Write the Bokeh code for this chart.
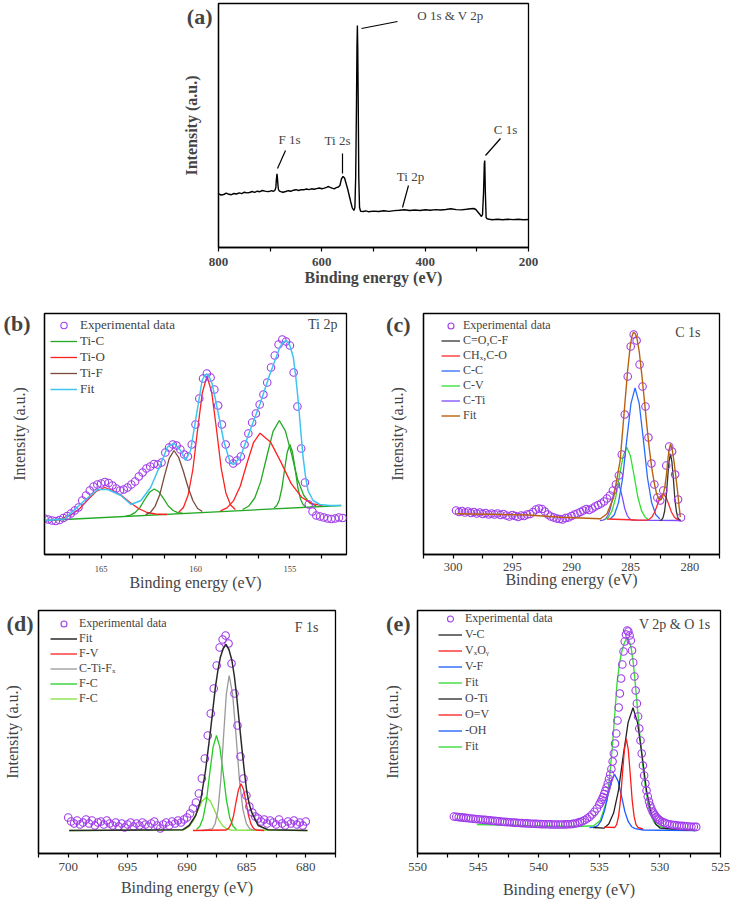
from bokeh.plotting import figure
from bokeh.models import Range1d, FixedTicker, Label, Legend, LegendItem
from bokeh.layouts import column, row
from bokeh.embed import file_html
from bokeh.resources import INLINE

# ======================= DATA =======================
# ---- (a) survey spectrum ----
A_BE = [800, 795, 790, 785, 780, 775, 770, 765, 760, 755, 750, 745, 740, 735, 730, 725, 720, 715, 710, 705, 700,
        697, 694, 691, 689, 688, 686.8, 686, 685, 684, 682, 679,
        675, 670, 665, 660, 655, 650, 645, 640, 635, 630, 625, 620, 615, 610, 605, 600, 595,
        590, 587, 584, 580, 576, 572, 568, 565, 562, 559, 556, 553, 550, 547, 544, 541, 538, 536, 534.5, 533, 532,
        531.2, 530.5, 529.5, 528.5, 527, 525, 520, 515,
        510, 500, 490, 480, 470, 460, 450, 440, 430, 420, 410, 400, 390, 380, 370, 360, 350, 340, 330, 320,
        312, 306, 302, 298, 294, 291, 289, 287, 285.5, 284.7, 283.5, 282, 280, 276,
        270, 260, 250, 240, 230, 220, 210, 200]
A_INT = [53.7, 52.5, 53.0, 54.3, 53.2, 52.8, 54.0, 53.5, 54.6, 53.9, 55.3, 54.6, 55.0, 56.0, 55.2, 56.3, 55.8, 57.0, 56.4, 55.9, 56.3,
         56.8, 56.2, 57.0, 60, 68, 73.7, 70, 63, 58, 56.3, 55.8,
         55.3, 56.0, 56.8, 56.2, 57.3, 57.8, 57.0, 57.9, 57.7, 58.5, 57.9, 58.7, 58.2, 58.9, 59.5, 58.8, 59.4,
         60.3, 61, 60.2, 59.3, 58.7, 59.8, 60.5, 62, 68.7, 71, 69.5, 64, 58.5, 52, 45.5, 39.5, 37, 40, 70, 140, 200,
         222, 200, 140, 70, 40, 36.3, 36.0, 36.6,
         35.8, 36.4, 36.0, 36.7, 36.1, 36.9, 37.3, 37.8, 37.0, 37.5, 37.0, 37.7, 37.3, 37.9, 37.5, 38.0, 38.7, 37.9, 37.6, 38.2,
         38.7, 39.0, 38.0, 35.5, 33.0, 31.0, 33, 55, 84, 87, 55, 30, 28.7, 28.2,
         27.8, 28.3, 27.7, 28.2, 27.9, 28.3, 27.8, 28.0]
A_TICKS = [800, 600, 400, 200]
A_MINOR = [700, 500, 300]
A_PEAK_NAMES = ["O 1s & V 2p", "F 1s", "Ti 2s", "Ti 2p", "C 1s"]

# ---- (b) Ti 2p ----
B_EXP_X = [168.0, 167.8, 167.6, 167.4, 167.2, 167.0, 166.8, 166.6, 166.4, 166.2, 166.0, 165.8, 165.6, 165.4, 165.2,
           165.0, 164.8, 164.6, 164.4, 164.2, 164.0, 163.8, 163.6, 163.4, 163.2, 163.0, 162.8, 162.6, 162.4, 162.2,
           162.0, 161.8, 161.6, 161.4, 161.2, 161.0, 160.8, 160.6, 160.4, 160.2, 160.0, 159.8, 159.6, 159.4, 159.2,
           159.0, 158.8, 158.6, 158.4, 158.2, 158.0, 157.8, 157.6, 157.4, 157.2, 157.0, 156.8, 156.6, 156.4, 156.2,
           156.0, 155.8, 155.6, 155.4, 155.2, 155.0, 154.8, 154.6, 154.4, 154.2, 154.0, 153.8, 153.6, 153.4, 153.2,
           153.0, 152.8, 152.6, 152.4, 152.2]
B_EXP_Y = [36, 35, 34, 33.5, 34.5, 36.5, 38.5, 41, 44, 47,
           54, 59, 64, 68, 70, 71, 72.5, 71.5, 69, 66,
           64, 65, 67, 70, 73, 78, 82, 86, 88, 90.5,
           90, 92, 102, 107, 110, 109, 105, 100, 98, 110,
           130, 156, 176, 181, 177, 165, 149, 130, 110, 95,
           91, 94, 98, 110, 121, 132, 141, 150, 160, 172,
           187, 199, 210, 215, 213, 209, 182, 148, 106, 72,
           50, 43, 39, 38, 37, 36, 35.5, 36, 37, 36.5]
B_FIT_X = [167.98, 166.93, 165.88, 165.18, 164.65, 163.95, 163.42, 162.89, 162.37, 161.84, 161.49, 161.14, 160.79,
           160.53, 160.26, 159.91, 159.65, 159.52, 159.39, 159.26, 159.12, 158.86, 158.51, 158.16, 157.98, 157.63,
           157.11, 156.58, 156.05, 155.53, 155.35, 155.18, 155.00, 154.82, 154.69, 154.56, 154.43, 154.30, 154.17,
           154.04, 153.77, 153.42, 152.89, 152.28]
B_FIT_Y = [34, 35.7, 54, 65, 65, 59, 50, 54, 67.3, 90.7, 107.3, 111.3, 104, 94, 104, 144, 174, 179, 180.5, 177,
           170.7, 147.3, 114, 91.7, 90, 97.3, 124, 150.7, 180.7, 207.3, 212.5, 214, 209, 197.3, 178, 154, 125, 97.3,
           78, 64, 54, 50, 49, 49]
B_BG_X = [167.98, 152.28]
B_BG_Y = [34, 49]
B_TIC1_X = [163.69, 163.44, 163.19, 162.94, 162.69, 162.44, 162.19, 161.94, 161.69, 161.44, 161.19, 160.94, 160.69]
B_TIC1_Y = [38.4, 39.4, 42.1, 47.1, 55.0, 62.2, 65.5, 62.7, 55.9, 48.5, 44.0, 41.8, 41.3]
B_TIC2_X = [157.51, 157.19, 156.86, 156.54, 156.21, 155.89, 155.56, 155.24, 154.91, 154.59, 154.26, 153.94, 153.61]
B_TIC2_Y = [45.0, 48.2, 56.5, 73.1, 99.0, 123.1, 134.0, 123.7, 100.3, 75.0, 59.0, 51.3, 48.7]
B_TIC3_X = [155.84, 155.70, 155.56, 155.42, 155.28, 155.14, 155.00, 154.86, 154.72, 154.58, 154.44, 154.30, 154.16]
B_TIC3_Y = [46.5, 48.7, 54.6, 66.5, 85.0, 102.3, 110.0, 102.5, 85.4, 67.2, 55.5, 49.8, 47.9]
B_TIO1_X = [167.52, 167.07, 166.62, 166.17, 165.72, 165.27, 164.82, 164.37, 163.92, 163.47, 163.02, 162.57, 162.12, 161.5]
B_TIO1_Y = [34.7, 36.2, 39.4, 45.3, 54.4, 63.0, 67.0, 64.0, 59.0, 52.0, 46.0, 42.0, 40.5, 40.0]
B_TIO2_X = [160.89, 160.64, 160.39, 160.14, 159.89, 159.64, 159.39, 159.14, 158.89, 158.64, 158.39, 158.14, 157.89]
B_TIO2_Y = [42.3, 47.0, 59.6, 85.0, 124.7, 161.7, 178.2, 162.1, 125.7, 86.4, 61.6, 49.4, 45.1]
B_TIO3_X = [158.68, 158.33, 157.98, 157.63, 157.28, 156.93, 156.58, 156.03, 155.48, 154.93, 154.38, 153.83, 153.28]
B_TIO3_Y = [43.7, 46.6, 53.9, 68.3, 90.8, 111.8, 121.3, 112.6, 92.6, 70.9, 57.3, 50.9, 48.8]
B_TIF_X = [162.64, 162.39, 162.14, 161.89, 161.64, 161.39, 161.14, 160.89, 160.64, 160.39, 160.14, 159.89, 159.64]
B_TIF_Y = [39.8, 42.2, 48.2, 60.1, 78.8, 96.2, 104.0, 97.0, 83.0, 67.0, 54.0, 46.0, 43.0]
B_TICKS = [165, 160, 155]
B_MINOR = [166.667, 163.333, 161.667, 158.333, 156.667, 153.333]

# ---- (c) C 1s ----
C_EXP_X = [299.75, 299.5, 299.25, 299.0, 298.75, 298.5, 298.25, 298.0, 297.75, 297.5, 297.25, 297.0, 296.75, 296.5,
           296.25, 296.0, 295.75, 295.5, 295.25, 295.0, 294.75, 294.5, 294.25, 294.0, 293.75, 293.5, 293.25, 293.0,
           292.75, 292.5, 292.25, 292.0, 291.75, 291.5, 291.25, 291.0, 290.75, 290.5, 290.25, 290.0, 289.75, 289.5,
           289.25, 289.0, 288.75, 288.5, 288.25, 288.0, 287.75, 287.5, 287.25, 287.0, 286.75, 286.5, 286.25, 286.0,
           285.75, 285.5, 285.25, 285.0, 284.75, 284.5, 284.25, 284.0, 283.75, 283.5, 283.25, 283.0, 282.75, 282.5,
           282.25, 282.0, 281.75, 281.5, 281.25, 281.0, 280.75]
C_EXP_Y = [44, 42.5, 43.5, 42, 43, 41.5, 42.5, 41, 42, 40.5,
           41.5, 40, 41, 40, 41, 39.5, 40.5, 39, 38, 39.5,
           38.5, 37.5, 39, 38.5, 40, 40.5, 42.5, 45, 46, 45.5,
           43, 40, 38, 37, 36, 35.5, 35, 36.5, 37, 38.5,
           40, 41, 42.5, 44, 45.5, 44.5, 46, 48, 49.5, 51,
           53, 56, 59, 64, 70, 79, 100, 140, 178, 208,
           220, 214, 190, 168, 148, 117, 91, 70, 57, 54,
           64, 89, 108, 103, 80, 55, 37]
C_FIT_X = [299.71, 296.0, 293.7, 290.91, 287.56, 287.0, 286.44, 285.89, 285.47, 285.25, 285.05, 284.90, 284.77,
           284.63, 284.49, 284.28, 284.07, 283.86, 283.65, 283.44, 283.23, 283.02, 282.81, 282.63, 282.45, 282.28,
           282.12, 281.98, 281.84, 281.73, 281.62, 281.48, 281.33, 281.19, 281.05, 280.93, 280.81]
C_FIT_Y = [40.7, 40, 39.5, 37.3, 35.7, 40.7, 57.3, 94, 154, 185, 207.3, 218, 222.3, 221, 217.3, 203, 180.7, 156,
           130.7, 107, 87.3, 72, 60.7, 55.5, 54.7, 58.5, 67.3, 80, 97.3, 106, 110.7, 104, 92, 78, 64, 50, 37.3]
C_CTI_X = [287.6, 287.34, 287.13, 286.93, 286.72, 286.52, 286.31, 286.11, 285.91, 285.70, 285.50, 285.29, 285.09, 284.88, 280.77]
C_CTI_Y = [34.0, 34.4, 35.6, 39.0, 45.9, 56.8, 66.8, 71.3, 66.8, 56.8, 45.9, 39.0, 35.6, 34.4, 34.0]
C_CV_X = [287.19, 286.88, 286.57, 286.26, 285.95, 285.64, 285.33, 285.02, 284.71, 284.40, 284.09, 283.78, 283.47]
C_CV_Y = [34.8, 37.2, 43.9, 57.5, 78.7, 98.5, 107.3, 98.5, 78.7, 57.5, 43.9, 37.2, 34.8]
C_CC_X = [286.73, 286.38, 286.03, 285.68, 285.33, 284.98, 284.63, 284.28, 283.93, 283.58, 283.23, 282.88, 282.53]
C_CC_Y = [35.5, 39.8, 51.9, 76.5, 114.9, 150.8, 166.7, 150.8, 114.9, 76.5, 51.9, 39.8, 35.5]
C_CH_X = [287.0, 284.5, 283.67, 283.44, 283.20, 282.97, 282.73, 282.50, 282.26, 282.03, 281.79, 281.56, 281.32, 281.09, 280.85]
C_CH_Y = [35.5, 34.5, 34.3, 35.2, 37.6, 42.5, 50.3, 57.5, 60.7, 57.5, 50.3, 42.5, 37.6, 35.2, 34.3]
C_CO_X = [282.53, 282.39, 282.27, 282.14, 282.02, 281.89, 281.77, 281.64, 281.52, 281.39, 281.27, 281.14, 281.02, 280.89, 280.77]
C_CO_Y = [34.0, 34.7, 36.9, 43.0, 55.3, 74.7, 92.7, 100.7, 92.7, 74.7, 55.3, 43.0, 36.9, 34.7, 34.0]
C_TICKS = [300, 295, 290, 285, 280]
C_MINOR = [302.5, 297.5, 292.5, 287.5, 282.5, 277.5]

# ---- (d) F 1s ----
D_EXP_X = [700.0, 699.75, 699.5, 699.25, 699.0, 698.75, 698.5, 698.25, 698.0, 697.75, 697.5, 697.25, 697.0, 696.75,
           696.5, 696.25, 696.0, 695.75, 695.5, 695.25, 695.0, 694.75, 694.5, 694.25, 694.0, 693.75, 693.5, 693.25,
           693.0, 692.75, 692.5, 692.25, 692.0, 691.75, 691.5, 691.25, 691.0, 690.75, 690.5, 690.25, 690.0, 689.75,
           689.5, 689.25, 689.0, 688.75, 688.5, 688.25, 688.0, 687.75, 687.5, 687.25, 687.0, 686.75, 686.5, 686.25,
           686.0, 685.75, 685.5, 685.25, 685.0, 684.75, 684.5, 684.25, 684.0, 683.75, 683.5, 683.25, 683.0, 682.75,
           682.5, 682.25, 682.0, 681.75, 681.5, 681.25, 681.0, 680.75, 680.5, 680.25, 680.0]
D_EXP_Y = [36, 32, 30, 33, 29, 31, 34, 30, 33, 28,
           31, 32, 29, 33, 30, 28, 31, 27, 30, 26,
           29, 31, 27, 30, 28, 31, 29, 27, 30, 32,
           28, 25, 29, 31, 28, 32, 30, 33, 31, 34,
           36, 40, 45, 51, 60, 75, 95, 118, 140, 165,
           188, 206, 214, 218, 210, 190, 160, 128, 97, 75,
           58, 47, 41, 37, 35, 32, 34, 30, 33, 31,
           29, 34, 30, 28, 32, 30, 33, 29, 31, 28, 32]
D_FIT_X = [699.92, 690.37, 689.82, 689.27, 688.85, 688.44, 688.02, 687.61, 687.40, 687.19, 686.95, 686.72, 686.47,
           686.22, 686.01, 685.81, 685.60, 685.39, 685.18, 684.98, 684.77, 684.56, 684.01, 683.18, 679.86]
D_FIT_Y = [23, 23.7, 28, 38, 53, 83, 123, 166.3, 183, 196.3, 205, 209, 204, 193, 177, 156.3, 131, 106.3, 83, 63,
           50, 41.3, 28, 23.7, 23]
D_FV_X = [689.5, 686.71, 686.50, 686.29, 686.08, 685.87, 685.66, 685.45, 685.24, 685.03, 684.82, 684.61, 684.40, 684.19, 683.5]
D_FV_Y = [23.0, 23.5, 25.1, 29.3, 37.9, 51.5, 64.1, 69.7, 64.1, 51.5, 37.9, 29.3, 25.1, 23.5, 23.0]
D_CTIF_X = [688.71, 687.86, 687.63, 687.39, 687.16, 686.92, 686.69, 686.45, 686.16, 685.87, 685.58, 685.29, 685.00, 684.71, 684.29]
D_CTIF_Y = [23.0, 24.7, 29.8, 43.9, 72.6, 117.6, 159.4, 178.0, 159.4, 117.6, 72.6, 43.9, 29.8, 24.7, 23.0]
D_FC1_X = [689.20, 688.92, 688.64, 688.36, 688.08, 687.80, 687.52, 687.24, 686.96, 686.68, 686.40, 686.12, 685.84]
D_FC1_Y = [24.0, 27.2, 35.8, 53.4, 81.0, 106.6, 118.0, 106.6, 81.0, 53.4, 35.8, 27.2, 24.0]
D_FC2_X = [699.92, 690.48, 690.13, 689.78, 689.43, 689.08, 688.73, 688.38, 688.03, 687.68, 687.33, 686.98, 686.63, 686.28, 679.86]
D_FC2_Y = [23.0, 23.4, 24.5, 27.5, 33.7, 43.3, 52.3, 56.3, 52.3, 43.3, 33.7, 27.5, 24.5, 23.4, 23.0]
D_TICKS = [700, 695, 690, 685, 680]
D_MINOR = [702.5, 697.5, 692.5, 687.5, 682.5, 677.5]

# ---- (e) V 2p & O 1s ----
E_EXP_X = [547.0, 546.8, 546.6, 546.4, 546.2, 546.0, 545.8, 545.6, 545.4, 545.2, 545.0, 544.8, 544.6, 544.4, 544.2,
           544.0, 543.8, 543.6, 543.4, 543.2, 543.0, 542.8, 542.6, 542.4, 542.2, 542.0, 541.8, 541.6, 541.4, 541.2,
           541.0, 540.8, 540.6, 540.4, 540.2, 540.0, 539.8, 539.6, 539.4, 539.2, 539.0, 538.8, 538.6, 538.4, 538.2,
           538.0, 537.8, 537.6, 537.4, 537.2, 537.0, 536.8, 536.6, 536.4, 536.2, 536.0, 535.8, 535.6, 535.4, 535.2,
           535.0, 534.9, 534.8, 534.7, 534.6, 534.5, 534.4, 534.3, 534.2, 534.1, 534.0, 533.9, 533.8, 533.7, 533.6,
           533.5, 533.4, 533.3, 533.2, 533.1, 533.0, 532.9, 532.8, 532.7, 532.6, 532.5, 532.4, 532.3, 532.2, 532.1,
           532.0, 531.9, 531.8, 531.7, 531.6, 531.5, 531.4, 531.3, 531.2, 531.1, 531.0, 530.9, 530.8, 530.7, 530.6,
           530.5, 530.4, 530.3, 530.2, 530.1,
           530.0, 529.8, 529.6, 529.4, 529.2, 529.0, 528.8, 528.6, 528.4, 528.2, 528.0, 527.8, 527.6, 527.4, 527.2, 527.0]
E_EXP_Y = [37.0, 36.7, 36.4, 36.1, 35.9, 35.6, 35.3, 35.0, 34.8, 34.5, 34.3, 34.0, 33.8, 33.6, 33.3,
           33.1, 32.8, 32.6, 32.3, 32.1, 31.8, 31.6, 31.4, 31.2, 31.0, 30.9, 30.7, 30.5, 30.4, 30.2,
           30.1, 30.0, 29.8, 29.7, 29.6, 29.5, 29.4, 29.3, 29.2, 29.2, 29.1, 29.0, 29.0, 29.0, 29.0,
           29.0, 29.1, 29.2, 29.3, 29.6, 30.0, 30.6, 31.4, 32.3, 33.5, 35.0, 36.8, 39.0, 41.8, 45.0,
           49, 51.3, 53.8, 56.5, 59.5, 62.6, 66, 70, 74.5, 79, 84.5, 92, 100, 110, 120,
           133, 146, 160, 175, 189, 202, 212, 219, 223, 222, 218, 213, 203, 191, 177,
           163, 150, 137, 125, 113, 100, 88, 78, 70, 63, 57, 52, 48, 45, 42,
           40, 38, 36.5, 35, 34,
           33, 31.6, 30.6, 29.8, 29.2, 28.8, 28.4, 28.1, 27.8, 27.6, 27.4, 27.2, 27.0, 26.8, 26.7, 26.6]
E_FIT_X = [545.1, 540.97, 536.84, 535.47, 534.92, 534.37, 534.16, 533.95, 533.75, 533.54, 533.34, 533.13, 532.92,
           532.71, 532.55, 532.38, 532.20, 532.03, 531.82, 531.61, 531.41, 531.20, 531.00, 530.79, 530.52, 530.24,
           529.5, 527.07]
E_FIT_Y = [29, 27.7, 27, 27.7, 33, 53, 75, 103, 135, 169.7, 190, 203, 211, 216.3, 213, 206.3, 191, 169.7, 141, 113,
           88, 66.3, 51, 39.7, 32, 28, 25, 23]
E_OTI_X = [535.5, 534.62, 534.22, 533.82, 533.42, 533.02, 532.62, 532.22, 531.85, 531.47, 531.10, 530.72, 530.35, 529.97, 527.07]
E_OTI_Y = [26.0, 25.3, 29.4, 40.4, 62.9, 98.2, 131.1, 145.7, 131.1, 98.2, 62.9, 40.4, 29.4, 25.3, 23.0]
E_OV_X = [534.6, 533.73, 533.57, 533.41, 533.25, 533.09, 532.93, 532.77, 532.61, 532.45, 532.29, 532.13, 531.97, 531.81, 531.4]
E_OV_Y = [26.3, 26.0, 28.9, 37.1, 53.7, 79.7, 103.9, 114.7, 103.9, 79.7, 53.7, 37.1, 28.9, 26.0, 24.7]
E_OH_X = [535.8, 535.41, 535.13, 534.85, 534.57, 534.29, 534.01, 533.73, 533.45, 533.17, 532.89, 532.61, 532.33, 532.05, 531.34, 527.07]
E_OH_Y = [26.0, 26.3, 27.9, 32.7, 42.6, 58.1, 72.6, 79.0, 72.4, 57.7, 41.9, 31.8, 26.8, 24.9, 23.5, 23.0]
E_TICKS = [550, 545, 540, 535, 530, 525]
E_MINOR = [547.5, 542.5, 537.5, 532.5, 527.5]

for _nm in list(globals()):
    if _nm.endswith("_X") and _nm[:-2] + "_Y" in globals():
        assert len(globals()[_nm]) == len(globals()[_nm[:-2] + "_Y"]), _nm
assert len(A_BE) == len(A_INT)

# ======================= STYLE / LAYOUT =======================
SERIF = "Liberation Serif"
PURPLE = "#a03cea"

# annotation placement for (a): text x, text y, leader x0, y0, x1, y1 (data units)
A_ANNOT_POS = [(351, 232, 523.2, 219, 453.5, 226),
               (662.6, 108, 670.3, 97, 685.8, 79),
               (569.7, 107, 560, 94, 560, 74),
               (428.4, 71, 432.3, 62, 443.9, 40),
               (244.5, 118, 254.2, 109, 283.2, 92)]


def make_fig(width, height, xr, yr, bl, br, bt, bb, ticks, minor, tick_font, tick_standoff, title_standoff,
             letter, letter_y, letter_standoff, ylab_standoff, bold=False):
    p = figure(width=width, height=height, x_range=Range1d(xr[0], xr[1]), y_range=Range1d(yr[0], yr[1]),
               output_backend="svg", toolbar_location=None,
               min_border_left=bl, min_border_right=br, min_border_top=bt, min_border_bottom=bb)
    p.xgrid.visible = False
    p.ygrid.visible = False
    p.outline_line_color = "black"
    p.outline_line_width = 1.3
    p.outline_line_alpha = 1.0
    xa = p.xaxis[0]
    xa.ticker = FixedTicker(ticks=ticks, minor_ticks=minor)
    xa.major_tick_in = 0
    xa.major_tick_out = 4
    xa.minor_tick_in = 0
    xa.minor_tick_out = 4
    xa.axis_line_width = 1.3
    xa.major_tick_line_width = 1.2
    xa.minor_tick_line_width = 1.2
    xa.major_label_text_font = SERIF
    xa.major_label_text_font_size = tick_font
    xa.major_label_text_font_style = "bold" if bold else "normal"
    xa.major_label_standoff = tick_standoff
    xa.axis_label = "Binding energy (eV)"
    xa.axis_label_text_font = SERIF
    xa.axis_label_text_font_size = "16px"
    xa.axis_label_text_font_style = "bold" if bold else "normal"
    xa.axis_label_standoff = title_standoff
    # the y axis carries no scale; its single tick label is the panel letter
    ya = p.yaxis[0]
    ya.ticker = FixedTicker(ticks=[letter_y])
    ya.major_label_overrides = {letter_y: letter}
    ya.major_label_text_font = SERIF
    ya.major_label_text_font_size = "22px"
    ya.major_label_text_font_style = "bold"
    ya.major_label_standoff = letter_standoff
    ya.major_tick_out = 0
    ya.major_tick_in = 0
    ya.minor_tick_out = 0
    ya.minor_tick_in = 0
    ya.axis_line_width = 1.3
    ya.axis_label = "Intensity (a.u.)"
    ya.axis_label_text_font = SERIF
    ya.axis_label_text_font_size = "16px"
    ya.axis_label_text_font_style = "bold" if bold else "normal"
    ya.axis_label_standoff = ylab_standoff
    return p


def add_title(p, text, x, y):
    p.add_layout(Label(x=x, y=y, x_units="screen", y_units="screen", text=text, text_font=SERIF,
                       text_font_size="14px", text_baseline="middle", text_align="right"))


def add_legend(p, items, left, top, frame_h, gh, sp, font_size, glyph_w, standoff):
    n = len(items)
    lh = n * gh + (n - 1) * sp
    leg = Legend(items=[LegendItem(label=t, renderers=[r]) for t, r in items],
                 location=(left, frame_h - top - lh), orientation="vertical",
                 padding=0, margin=0, spacing=sp, glyph_height=gh, glyph_width=glyph_w,
                 label_height=gh, label_standoff=standoff, label_text_font=SERIF,
                 label_text_font_size=font_size, border_line_alpha=0, background_fill_alpha=0)
    p.add_layout(leg)


def exp_points(p, x, y):
    return p.scatter(x, y, marker="circle", size=7.5, fill_color=None, line_color=PURPLE, line_width=1.1)


# ---------------- (a) ----------------
pa = make_fig(730, 300, (800, 200), (0, 244), 218, 202, 3, 53, A_TICKS, A_MINOR, "13px", 6, 0,
              "(a)", 231, 6, -16, bold=True)
pa.line(A_BE, A_INT, line_color="black", line_width=1.4)
for name, (tx, ty, x0, y0, x1, y1) in zip(A_PEAK_NAMES, A_ANNOT_POS):
    pa.add_layout(Label(x=tx, y=ty, text=name, text_font=SERIF, text_font_size="13px",
                        text_align="center", text_baseline="middle"))
    pa.segment(x0=[x0], y0=[y0], x1=[x1], y1=[y1], line_color="black", line_width=1.2)

# ---------------- (b) ----------------
pb = make_fig(368, 300, (168, 152), (0, 241), 44, 22, 13, 46, B_TICKS, B_MINOR, "8.5px", 7, -1,
              "(b)", 231, 14, -27)
GREEN_B, RED_B, BROWN_B, CYAN_B = "#22a822", "#ff2020", "#7a4a3a", "#3ec4f0"
r_btic = pb.multi_line([B_BG_X, B_TIC1_X, B_TIC2_X, B_TIC3_X], [B_BG_Y, B_TIC1_Y, B_TIC2_Y, B_TIC3_Y],
                       line_color=GREEN_B, line_width=1.3)
r_btio = pb.multi_line([B_TIO1_X, B_TIO2_X, B_TIO3_X], [B_TIO1_Y, B_TIO2_Y, B_TIO3_Y], line_color=RED_B, line_width=1.3)
r_btif = pb.line(B_TIF_X, B_TIF_Y, line_color=BROWN_B, line_width=1.3)
r_bexp = exp_points(pb, B_EXP_X, B_EXP_Y)
r_bfit = pb.line(B_FIT_X, B_FIT_Y, line_color=CYAN_B, line_width=1.5)
add_legend(pb, [("Experimental data", r_bexp), ("Ti-C", r_btic), ("Ti-O", r_btio), ("Ti-F", r_btif), ("Fit", r_bfit)],
           6, 4, 241, 16, 0, "13px", 27, 3)
add_title(pb, "Ti 2p", 293, 230)

# ---------------- (c) ----------------
pc = make_fig(362, 300, (302.5, 277.5), (0, 241), 55, 11, 13, 46, C_TICKS, C_MINOR, "12.5px", 4, -3,
              "(c)", 230, 13, -23)
r_ccti = pc.line(C_CTI_X, C_CTI_Y, line_color="#7a4dff", line_width=1.3)
r_ccv = pc.line(C_CV_X, C_CV_Y, line_color="#2ee02e", line_width=1.3)
r_ccc = pc.line(C_CC_X, C_CC_Y, line_color="#2a6bff", line_width=1.3)
r_cch = pc.line(C_CH_X, C_CH_Y, line_color="#ff2a2a", line_width=1.3)
r_cco = pc.line(C_CO_X, C_CO_Y, line_color="#333333", line_width=1.3)
r_cexp = exp_points(pc, C_EXP_X, C_EXP_Y)
r_cfit = pc.line(C_FIT_X, C_FIT_Y, line_color="#b8610f", line_width=1.4)
add_legend(pc, [("Experimental data", r_cexp), ("C=O,C-F", r_cco), ("CHₓ,C-O", r_cch), ("C-C", r_ccc),
                ("C-V", r_ccv), ("C-Ti", r_ccti), ("Fit", r_cfit)],
           18, 5, 241, 15, 0, "12px", 19, 3)
add_title(pc, "C 1s", 277, 222)

# ---------------- (d) ----------------
pd_ = make_fig(368, 302, (702.5, 677.5), (0, 243), 33, 33, 10, 49, D_TICKS, D_MINOR, "13px", 5, 5,
               "(d)", 230, 5, -17)
r_dfc2 = pd_.line(D_FC2_X, D_FC2_Y, line_color="#7fe03a", line_width=1.3)
r_dfc1 = pd_.line(D_FC1_X, D_FC1_Y, line_color="#22cc22", line_width=1.3)
r_dctif = pd_.line(D_CTIF_X, D_CTIF_Y, line_color="#9a9a9a", line_width=1.3)
r_dfv = pd_.line(D_FV_X, D_FV_Y, line_color="#ff2020", line_width=1.3)
r_dexp = exp_points(pd_, D_EXP_X, D_EXP_Y)
r_dfit = pd_.line(D_FIT_X, D_FIT_Y, line_color="#2a2a2a", line_width=1.5)
add_legend(pd_, [("Experimental data", r_dexp), ("Fit", r_dfit), ("F-V", r_dfv), ("C-Ti-Fₓ", r_dctif),
                 ("F-C", r_dfc1), ("F-C", r_dfc2)],
           12, 6, 243, 15, 0, "12px", 27, 2)
add_title(pd_, "F 1s", 280, 226)

# ---------------- (e) ----------------
pe = make_fig(362, 302, (550, 525), (0, 243), 49, 10, 10, 49, E_TICKS, E_MINOR, "12.5px", 5, 7,
              "(e)", 230, 7, -18)
r_efit = pe.line(E_FIT_X, E_FIT_Y, line_color="#3ddc3d", line_width=1.4)
r_eoh = pe.line(E_OH_X, E_OH_Y, line_color="#1a5cff", line_width=1.3)
r_eoti = pe.line(E_OTI_X, E_OTI_Y, line_color="#222222", line_width=1.3)
r_eov = pe.line(E_OV_X, E_OV_Y, line_color="#ff1a1a", line_width=1.3)
r_eexp = exp_points(pe, E_EXP_X, E_EXP_Y)
add_legend(pe, [("Experimental data", r_eexp), ("V-C", r_eoti), ("VₓOᵧ", r_eov), ("V-F", r_eoh), ("Fit", r_efit),
                ("O-Ti", r_eoti), ("O=V", r_eov), ("-OH", r_eoh), ("Fit", r_efit)],
           21, 1, 243, 15, 1, "12px", 24, 3)
add_title(pe, "V 2p & O 1s", 293, 229)

layout = column(pa, row(pb, pc), row(pd_, pe))
open("out.html", "w").write(file_html(layout, INLINE))
